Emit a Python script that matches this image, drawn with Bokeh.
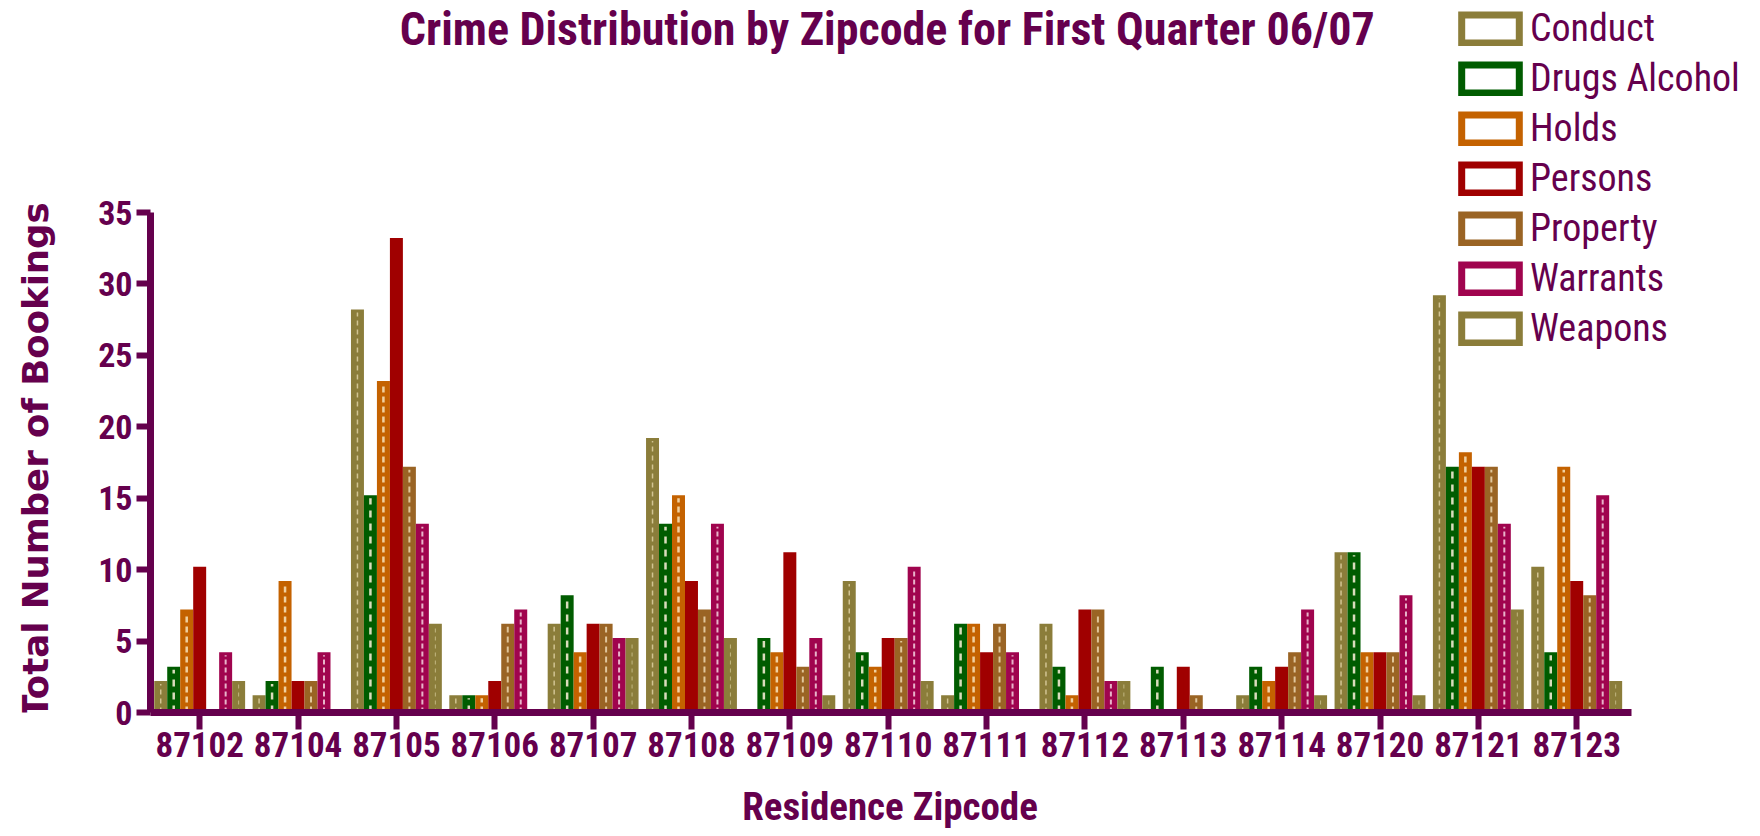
import math
from bokeh.plotting import figure
from bokeh.layouts import row, column
from bokeh.models import (Range1d, FixedTicker, Label, Legend, LegendItem,
                          ColumnDataSource)
from bokeh.embed import file_html
from bokeh.resources import INLINE

# ---------------- data ----------------
zipcodes = ["87102", "87104", "87105", "87106", "87107", "87108", "87109", "87110",
            "87111", "87112", "87113", "87114", "87120", "87121", "87123"]
categories = ["Conduct", "Drugs Alcohol", "Holds", "Persons", "Property", "Warrants", "Weapons"]

conduct       = [2, 1, 28, 1, 6, 19, 0, 9, 1, 6, 0, 1, 11, 29, 10]
drugs_alcohol = [3, 2, 15, 1, 8, 13, 5, 4, 6, 3, 3, 3, 11, 17, 4]
holds         = [7, 9, 23, 1, 4, 15, 4, 3, 6, 1, 0, 2, 4, 18, 17]
persons       = [10, 2, 33, 2, 6, 9, 11, 5, 4, 7, 3, 3, 4, 17, 9]
property_     = [0, 2, 17, 6, 6, 7, 3, 5, 6, 7, 1, 4, 4, 17, 8]
warrants      = [4, 4, 13, 7, 5, 13, 5, 10, 4, 2, 0, 7, 8, 13, 15]
weapons       = [2, 0, 6, 0, 5, 5, 1, 2, 0, 2, 0, 1, 1, 7, 2]

y_ticks = [0, 5, 10, 15, 20, 25, 30, 35]

title_text = "Crime  Distribution by Zipcode for First Quarter 06/07"
x_title = "Residence Zipcode"
y_title = "Total Number of Bookings"

# ---------------- style ----------------
PURPLE = "#65004D"
colors = ["#8B7D3A", "#005C00", "#C46200", "#A00000", "#9A6424", "#A0044E", "#8B7D3A"]
dash_styles = [("#D9CC9C", 1.5, "5 4"), ("#F2EAD0", 2.5, "7 6"), ("#F5DDB0", 2.5, "6 4"),
               None, ("#E8D0A8", 2, "6 4"), ("#F0C8D8", 2, "5 3"), ("#C8BC88", 1, "4 4")]
NARROW = "'Roboto Condensed', 'Liberation Sans Narrow', 'Liberation Sans', sans-serif"

W, H = 1760, 836
SIDE_W = 80              # strip holding the y-axis title
ML = 150                 # frame left (page pixels)
FRAME_W = W - ML
FRAME_H = 712
MBP = 66                 # room under the frame for the tick labels
MAIN_H = FRAME_H + MBP
BOTTOM_H = H - MAIN_H    # strip holding the x-axis title
PX_UNIT = 98.36          # pixels per zipcode group
PX_Y = 500 / 35          # pixels per booking
X0 = -0.5
x_end = X0 + FRAME_W / PX_UNIT
y_end = FRAME_H / PX_Y

p = figure(frame_width=FRAME_W, frame_height=FRAME_H,
           x_range=Range1d(X0, x_end), y_range=Range1d(0, y_end),
           output_backend="svg", toolbar_location=None,
           min_border_left=ML - SIDE_W, min_border_right=0, min_border_top=0,
           min_border_bottom=MBP)
p.outline_line_color = None
p.xgrid.visible = False
p.ygrid.visible = False
p.background_fill_color = "white"
p.border_fill_color = "white"

BAR_STEP = 0.132
LW = 6
bar_w = BAR_STEP - LW / PX_UNIT
nan = float("nan")

series = [conduct, drugs_alcohol, holds, persons, property_, warrants, weapons]
legend_items = []
for j, (name, vals) in enumerate(zip(categories, series)):
    xs = [i + (j - 3) * BAR_STEP for i in range(len(zipcodes))]
    src = ColumnDataSource(dict(x=xs, top=vals, zero=[0] * len(vals)))
    p.vbar(x="x", top="top", bottom="zero", width=bar_w, source=src,
           fill_color=colors[j], line_color=colors[j], line_width=LW, line_join="miter")
    ds = dash_styles[j]
    if ds is not None:
        p.segment(x0="x", y0="zero", x1="x", y1="top", source=src,
                  line_color=ds[0], line_width=ds[1], line_dash=ds[2], line_alpha=0.9)
    # outline-only swatch used by the legend (not drawn in the plot: NaN coords)
    swatch = p.quad(left=[nan], right=[nan], top=[nan], bottom=[nan], fill_color="white",
                    line_color=colors[j], line_width=7, line_join="miter")
    legend_items.append(LegendItem(label=name, renderers=[swatch]))

# ---------------- axes ----------------
xa = p.xaxis[0]
xa.ticker = FixedTicker(ticks=list(range(len(zipcodes))))
xa.major_label_overrides = {i: z for i, z in enumerate(zipcodes)}
xa.bounds = (X0, X0 + 15.06)
ya = p.yaxis[0]
ya.ticker = FixedTicker(ticks=y_ticks)
ya.bounds = (0, 35)
for ax in (xa, ya):
    ax.axis_line_color = PURPLE
    ax.axis_line_width = 7
    ax.major_tick_line_color = PURPLE
    ax.major_tick_line_width = 6
    ax.major_tick_in = 0
    ax.minor_tick_line_color = None
    ax.major_label_text_color = PURPLE
    ax.major_label_text_font = NARROW
    ax.major_label_text_font_style = "bold"
xa.major_label_text_font_size = "35px"
ya.major_label_text_font_size = "34px"
xa.major_tick_out = 17
xa.major_label_standoff = 2
ya.major_tick_out = 14
ya.major_label_standoff = 4

# ---------------- legend ----------------
legend = Legend(items=legend_items, location=(1304, 362))
legend.padding = 0
legend.margin = 0
legend.spacing = 6
legend.glyph_width = 72
legend.glyph_height = 35
legend.label_standoff = 4
legend.label_text_font = NARROW
legend.label_text_font_size = "38px"
legend.label_text_color = PURPLE
legend.background_fill_alpha = 0
legend.border_line_color = None
p.add_layout(legend, "center")

# ---------------- title ----------------
p.add_layout(Label(x=742, y=684, x_units="screen", y_units="screen", text=title_text,
                   text_font=NARROW, text_font_style="bold", text_font_size="46px",
                   text_color=PURPLE, text_align="center", text_baseline="alphabetic"))


def strip(width, height):
    f = figure(width=width, height=height, x_range=Range1d(0, 1), y_range=Range1d(0, 1),
               x_axis_location=None, y_axis_location=None, output_backend="svg",
               toolbar_location=None, min_border=0)
    f.outline_line_color = None
    f.grid.visible = False
    f.background_fill_color = "white"
    f.border_fill_color = "white"
    return f


# y-axis title strip (left of the plot); its frame lines up with the plot frame
side = strip(SIDE_W, MAIN_H)
side.add_layout(Label(x=35, y=FRAME_H - 460, x_units="screen", y_units="screen",
                      text=y_title, angle=math.pi / 2, text_font="DejaVu Sans",
                      text_font_style="bold", text_font_size="35.5px", text_color=PURPLE,
                      text_align="center", text_baseline="middle"))

# x-axis title strip (below the plot)
bottom = strip(W, BOTTOM_H)
bottom.add_layout(Label(x=889.5, y=BOTTOM_H - (806.5 - MAIN_H), x_units="screen",
                        y_units="screen", text=x_title, text_font=NARROW,
                        text_font_style="bold", text_font_size="39px", text_color=PURPLE,
                        text_align="center", text_baseline="middle"))

layout = column(row(side, p, spacing=0), bottom, spacing=0)
open("out.html", "w").write(file_html(layout, INLINE))
